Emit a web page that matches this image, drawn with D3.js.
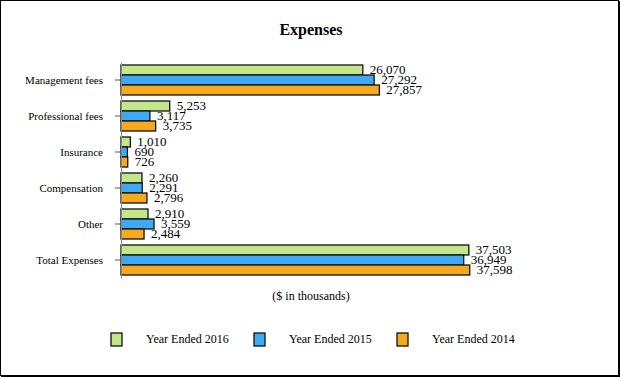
<!DOCTYPE html>
<html>
<head>
<meta charset="utf-8">
<script src="https://cdn.jsdelivr.net/npm/d3@7"></script>
<style>
  body { margin: 0; background: #fff; }
  svg { display: block; font-family: "Liberation Serif", "Times New Roman", serif; }
</style>
</head>
<body>
<div id="chart"></div>
<script>
// chart data
const categories = ["Management fees", "Professional fees", "Insurance", "Compensation", "Other", "Total Expenses"];
const seriesNames = ["Year Ended 2016", "Year Ended 2015", "Year Ended 2014"];
const values2016 = [26070, 5253, 1010, 2260, 2910, 37503];
const values2015 = [27292, 3117, 690, 2291, 3559, 36949];
const values2014 = [27857, 3735, 726, 2796, 2484, 37598];
const colors = ["#c3e68a", "#3eaaf5", "#f7a91d"];

const W = 620, H = 377;

const svg = d3.select("#chart")
    .append("svg")
    .attr("width", W)
    .attr("height", H);

// frame
svg.append("rect")
    .attr("x", 0.5).attr("y", 0.5)
    .attr("width", W - 2).attr("height", H - 2)
    .attr("fill", "#fff")
    .attr("stroke", "#000")
    .attr("stroke-width", 1);
svg.append("path")
    .attr("d", `M${W - 1},1V${H - 1}H1`)
    .attr("fill", "none")
    .attr("stroke", "#000")
    .attr("stroke-width", 2);

// title
svg.append("text")
    .attr("x", 311)
    .attr("y", 35)
    .attr("text-anchor", "middle")
    .style("font-size", "16px")
    .style("font-weight", "bold")
    .text("Expenses");

const x = d3.scaleLinear()
    .domain([0, 40000])
    .range([121, 492]);

const y = d3.scaleBand()
    .domain(categories)
    .range([62, 278]);

const ySub = d3.scaleBand()
    .domain(seriesNames)
    .range([3, y.bandwidth() - 3]);

const series = [values2016, values2015, values2014];

// bars
series.forEach((vals, s) => {
    const g = svg.append("g");
    g.selectAll("rect")
        .data(vals)
        .join("rect")
        .attr("x", x(0))
        .attr("y", (d, i) => y(categories[i]) + ySub(seriesNames[s]))
        .attr("width", d => x(d) - x(0))
        .attr("height", ySub.bandwidth())
        .attr("fill", colors[s])
        .attr("stroke", "#111")
        .attr("stroke-width", 1.3);

    g.selectAll("text")
        .data(vals)
        .join("text")
        .attr("x", d => x(d) + 7)
        .attr("y", (d, i) => y(categories[i]) + ySub(seriesNames[s]) + ySub.bandwidth() / 2 + 1)
        .attr("dominant-baseline", "middle")
        .style("font-size", "13px")
        .text(d => d3.format(",")(d));
});

// y axis
const yAxis = svg.append("g")
    .attr("transform", `translate(${x(0)},0)`)
    .call(d3.axisLeft(y).tickSize(6).tickSizeOuter(0).tickPadding(12));
yAxis.select(".domain").attr("stroke", "#888");
yAxis.selectAll(".tick line").attr("stroke", "#555");
yAxis.selectAll("text")
    .style("font-family", "'Liberation Serif', serif")
    .style("font-size", "11px")
    .attr("fill", "#000");

// axis caption
svg.append("text")
    .attr("x", 311)
    .attr("y", 300)
    .attr("text-anchor", "middle")
    .style("font-size", "12px")
    .text("($ in thousands)");

// legend
const legendX = [111, 254, 397];
seriesNames.forEach((name, s) => {
    svg.append("rect")
        .attr("x", legendX[s])
        .attr("y", 333)
        .attr("width", 11)
        .attr("height", 13)
        .attr("fill", colors[s])
        .attr("stroke", "#111")
        .attr("stroke-width", 1.3);
    svg.append("text")
        .attr("x", legendX[s] + 35)
        .attr("y", 340)
        .attr("dominant-baseline", "middle")
        .style("font-size", "12px")
        .text(name);
});
</script>
</body>
</html>
